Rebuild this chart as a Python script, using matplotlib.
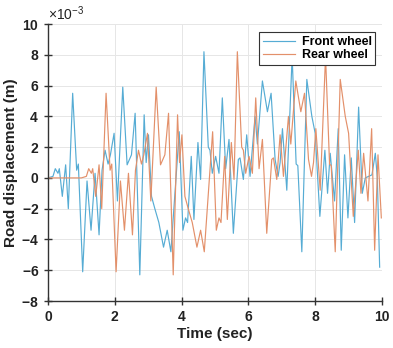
import numpy as np
import matplotlib
matplotlib.use("Agg")
import matplotlib.pyplot as plt

# ----------------------------
# Data, displacement in mm
# ----------------------------
front_t = [0.00, 0.15, 0.22, 0.30, 0.34, 0.43, 0.53, 0.61, 0.74, 0.86,
           0.91, 1.04, 1.17, 1.29, 1.41, 1.53, 1.62, 1.71, 1.80, 1.87,
           1.98, 2.08, 2.24, 2.37, 2.50, 2.61, 2.75, 2.88, 2.94, 3.01,
           3.10, 3.20, 3.32, 3.46, 3.57, 3.68, 3.93, 4.04, 4.12, 4.18,
           4.29, 4.37, 4.49, 4.57, 4.67, 4.80, 4.85, 4.92, 5.02, 5.12,
           5.22, 5.32, 5.42, 5.55, 5.70, 5.75, 5.85, 5.95, 6.05, 6.20,
           6.27, 6.42, 6.57, 6.68, 6.80, 6.89, 6.95, 7.02, 7.15, 7.31,
           7.43, 7.48, 7.60, 7.75, 7.90, 8.00, 8.14, 8.29, 8.37, 8.45,
           8.58, 8.69, 8.78, 8.88, 8.98, 9.08, 9.18, 9.30, 9.41, 9.50,
           9.60, 9.70, 9.80, 9.86, 9.93]
front_mm = [0.0, 0.1, 0.6, 0.3, 0.6, -1.2, 0.85, -2.0, 5.5, 0.5,
            0.9, -6.1, -0.2, -3.4, 0.3, -3.7, 0.5, 1.8, 0.9, 1.5,
            2.9, -1.5, 5.9, 0.85, 1.5, 4.2, -6.3, 4.1, 1.0, 2.8,
            -1.2, -2.0, -2.9, -4.5, -3.4, -4.8, 3.0, -3.4, -2.6, -2.9,
            1.4, -2.7, 2.3, -0.1, 8.2, 2.0, 1.8, 0.3, 1.4, 0.3,
            5.2, 0.6, 2.5, -3.6, 1.2, 1.3, -0.1, 2.8, 0.1, 4.0,
            2.2, 6.3, 4.3, 5.5, 1.2, 0.1, 1.0, 3.2, -0.8, 7.9,
            0.9, 0.8, -4.8, 6.4, 4.0, 2.9, -2.5, 1.8, -1.0, 1.6,
            -1.5, 3.2, -4.7, 1.5, -2.6, 1.3, -2.9, 4.6, -1.0, 0.0,
            0.1, 0.2, 1.6, 0.0, -5.8]

# rear wheel follows the same road profile one second later
rear_delay = 1.0

front_t = np.array(front_t)
front_y = np.array(front_mm) * 1e-3

keep = front_t + rear_delay <= 10
rear_t = np.concatenate([[0.0], front_t[keep] + rear_delay])
rear_y = np.concatenate([[0.0], front_y[keep]])

# ----------------------------
# Plot
# ----------------------------
plt.rcParams['font.family'] = ['Liberation Sans', 'DejaVu Sans']
plt.rcParams['axes.unicode_minus'] = False
plt.rcParams['mathtext.fontset'] = 'custom'
plt.rcParams['mathtext.rm'] = 'Liberation Sans'

fig = plt.figure(figsize=(3.93, 3.48), dpi=100)
ax = fig.add_axes([0.122, 0.135, 0.85, 0.796])

ax.plot(front_t, front_y, color='#56acd4', lw=0.85, label='Front wheel')
ax.plot(rear_t, rear_y, color='#e3906a', lw=0.85, label='Rear wheel')

ax.set_xlim(0, 10)
ax.set_ylim(-8e-3, 10e-3)
ax.set_xticks(np.arange(0, 11, 2))
ax.set_yticks(np.arange(-8, 11, 2) * 1e-3)
ax.ticklabel_format(axis='y', style='sci', scilimits=(-3, -3), useMathText=True)

ax.grid(True, color='#e6e6e6', lw=0.7)
ax.set_axisbelow(True)
for s in ['top', 'right']:
    ax.spines[s].set_visible(False)
for s in ['left', 'bottom']:
    ax.spines[s].set_color('#333333')
    ax.spines[s].set_linewidth(1.0)
ax.tick_params(direction='inout', length=6, width=1.0, color='#333333',
               labelsize=10, labelcolor='#222222')
for lab in ax.get_xticklabels() + ax.get_yticklabels():
    lab.set_fontweight('bold')
ax.yaxis.get_offset_text().set_fontsize(10)

ax.set_xlabel('Time (sec)', fontsize=11, fontweight='bold', color='#222222', labelpad=2)
ax.set_ylabel('Road displacement (m)', fontsize=11, fontweight='bold', color='#222222', labelpad=2)

leg = ax.legend(loc='upper right', bbox_to_anchor=(0.98, 0.97), fancybox=False,
                framealpha=1, edgecolor='#333333', borderpad=0.3, labelspacing=0.1,
                handlelength=2.6, handletextpad=0.5, borderaxespad=0,
                prop={'weight': 'bold', 'size': 9})
leg.get_frame().set_linewidth(0.8)

fig.savefig('out.png', dpi=100)
